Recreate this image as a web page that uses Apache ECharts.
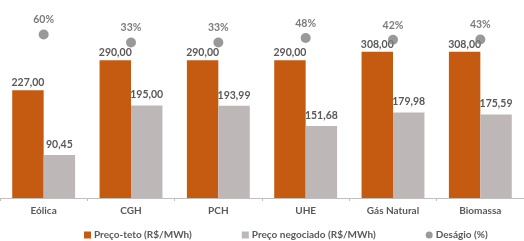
<!DOCTYPE html>
<html>
<head>
<meta charset="utf-8">
<script src="https://cdn.jsdelivr.net/npm/echarts@6/dist/echarts.min.js"></script>
<style>
  html, body { margin: 0; padding: 0; background: #fff; }
  #container { width: 524px; height: 241px; }
</style>
</head>
<body>
<div id="container"></div>
<script>
// dados
var categorias = ['Eólica', 'CGH', 'PCH', 'UHE', 'Gás Natural', 'Biomassa'];
var precoTeto = [227.00, 290.00, 290.00, 290.00, 308.00, 308.00];
var precoNegociado = [90.45, 195.00, 193.99, 151.68, 179.98, 175.59];
var desagio = [60, 33, 33, 48, 42, 43];

var fonte = 'Lato';
var corTexto = '#595959';

function fmt(v) {
  return v.toFixed(2).replace('.', ',');
}

var dom = document.getElementById('container');
var myChart = echarts.init(dom);
var option = {
  animation: false,
  textStyle: { fontFamily: fonte },
  grid: { left: -4, right: -4, top: 8, bottom: 43 },
  legend: {
    left: 84,
    top: 230,
    padding: 0,
    itemWidth: 7,
    itemHeight: 7,
    itemGap: 50,
    textStyle: { fontFamily: fonte, fontSize: 10, fontWeight: 'bold', color: corTexto, padding: [0, 0, 0, -2] },
    data: [
      { name: 'Preço-teto (R$/MWh)', icon: 'rect' },
      { name: 'Preço negociado (R$/MWh)', icon: 'rect' },
      { name: 'Deságio (%)', icon: 'circle', itemStyle: { color: '#7f7f7f' } }
    ]
  },
  xAxis: {
    type: 'category',
    data: categorias,
    axisLine: { lineStyle: { color: '#bfbfbf' } },
    axisTick: { show: true, interval: 0, length: 3, lineStyle: { color: '#bfbfbf' } },
    axisLabel: { color: corTexto, fontSize: 10, fontWeight: 'bold', fontFamily: fonte, margin: 8 }
  },
  yAxis: [
    { type: 'value', min: 0, max: 400, show: false, splitLine: { show: false } },
    { type: 'value', min: -495, max: 150, show: false, splitLine: { show: false } }
  ],
  series: [
    {
      name: 'Preço-teto (R$/MWh)',
      type: 'bar',
      data: precoTeto,
      barGap: '0%',
      barCategoryGap: '28%',
      itemStyle: { color: '#c55a11' },
      label: {
        show: true, position: 'top', distance: 2,
        color: corTexto, fontSize: 10.5, fontWeight: 'bold', fontFamily: fonte,
        formatter: function (p) { return fmt(p.value); }
      }
    },
    {
      name: 'Preço negociado (R$/MWh)',
      type: 'bar',
      data: precoNegociado,
      itemStyle: { color: '#bdb7b7' },
      label: {
        show: true, position: 'top', distance: 5,
        color: corTexto, fontSize: 10.5, fontWeight: 'bold', fontFamily: fonte,
        formatter: function (p) { return fmt(p.value); }
      }
    },
    {
      name: 'Deságio (%)',
      type: 'scatter',
      yAxisIndex: 1,
      data: desagio,
      symbolSize: 10,
      itemStyle: { color: '#7f7f7f' },
      label: {
        show: true, position: 'top', distance: 4,
        color: corTexto, fontSize: 10.5, fontWeight: 'bold', fontFamily: fonte,
        formatter: '{c}%'
      }
    }
  ]
};
myChart.setOption(option);
</script>
</body>
</html>
